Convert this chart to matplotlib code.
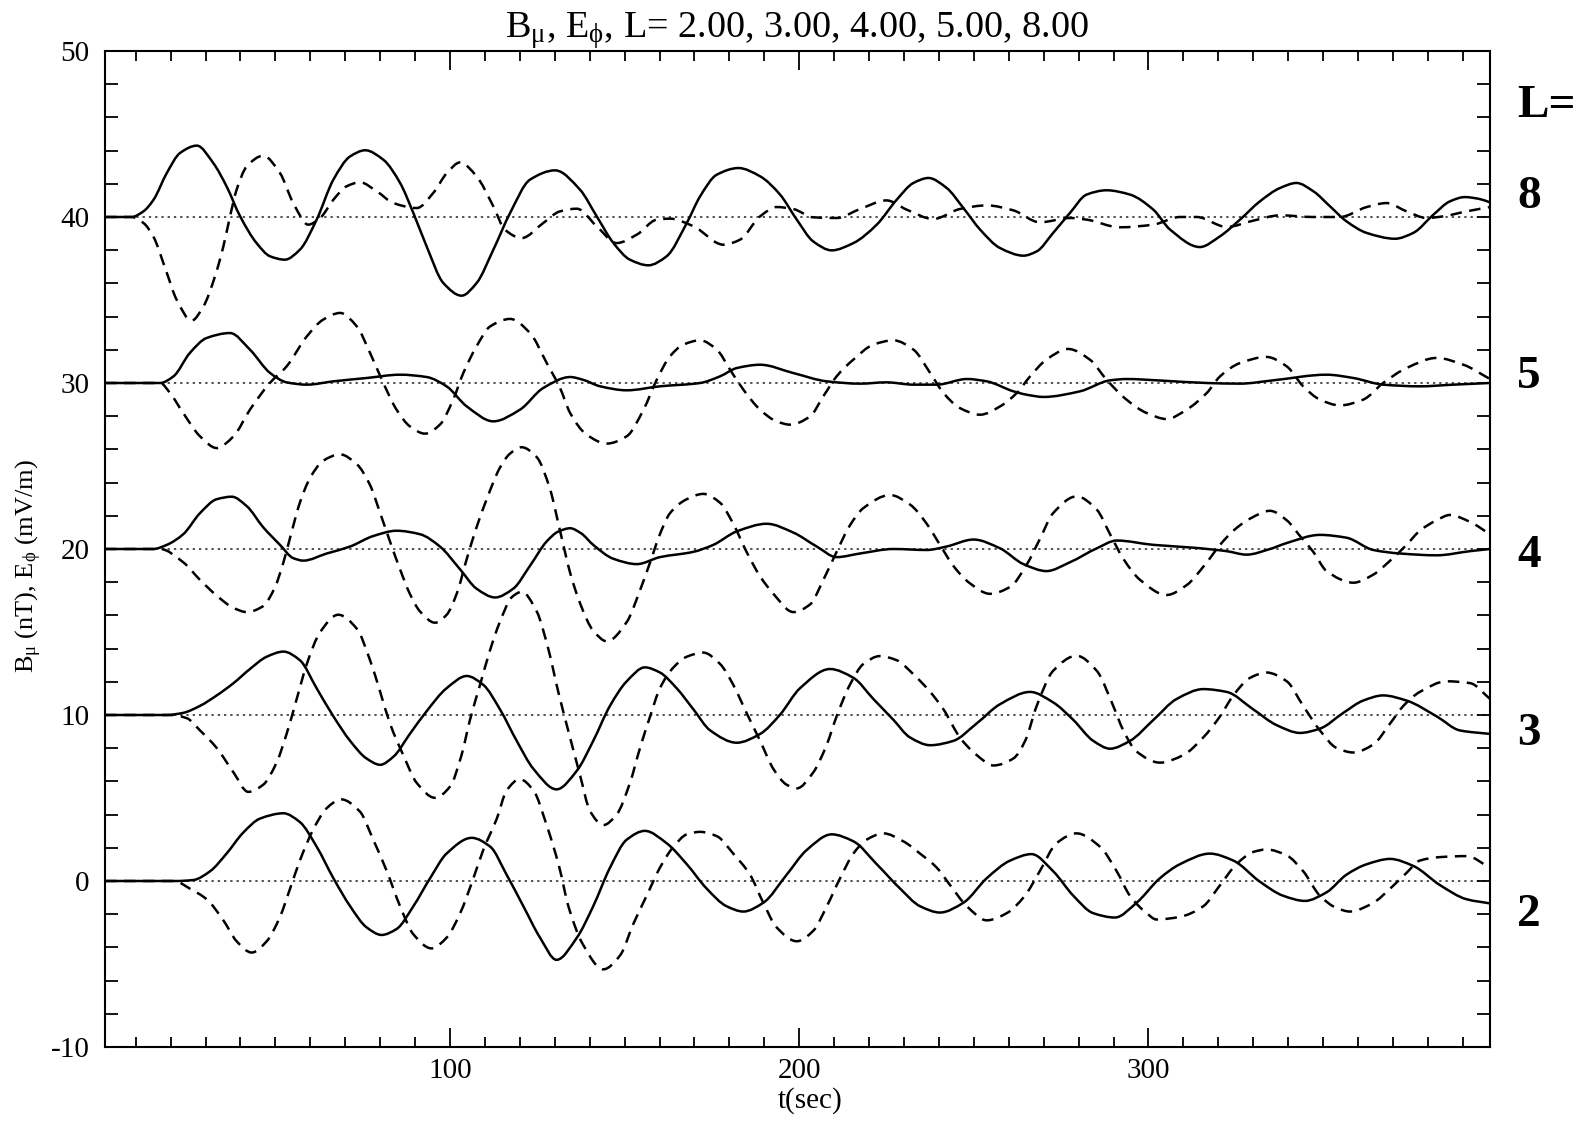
import matplotlib
matplotlib.use("Agg")
import numpy as np
import matplotlib.pyplot as plt
from matplotlib.ticker import MultipleLocator, FixedLocator
from matplotlib.path import Path
from matplotlib.patches import PathPatch

plt.rcParams['font.family'] = ['Liberation Serif', 'DejaVu Serif']
plt.rcParams['mathtext.fontset'] = 'custom'
plt.rcParams['mathtext.rm'] = 'Liberation Serif'
plt.rcParams['mathtext.it'] = 'Liberation Serif:italic'
plt.rcParams['axes.unicode_minus'] = False

# ---------------- data (deviations from each baseline) ----------------
L_values = [2, 3, 4, 5, 8]
offsets = [0, 10, 20, 30, 40]

# L = 8
t_B8 = [1.2, 8.8, 12.2, 15.1, 18.9, 22.7, 27.5, 32.2, 36.0, 39.9, 44.6, 48.5, 52.7, 57.0, 61.8, 66.6, 71.4, 75.7,
        80.9, 85.7, 89.5, 93.3, 98.1, 103.3, 107.6, 112.4, 117.2, 122.9, 130.1, 137.2, 142.0, 146.8, 151.5, 156.8,
        162.0, 167.8, 171.6, 176.4, 182.6, 188.8, 194.5, 199.3, 204.0, 209.3, 215.5, 222.2, 227.9, 232.7, 237.0,
        242.2, 247.0, 251.8, 257.5, 264.2, 268.0, 272.7, 277.5, 282.3, 288.0, 294.7, 301.4, 306.2, 314.7, 320.5,
        326.2, 331.9, 337.7, 342.4, 347.2, 352.0, 356.7, 362.5, 370.6, 375.8, 381.6, 386.3, 390.6, 394.9, 397.8]
B8 = [0, 0, 0.34, 1.04, 2.65, 3.86, 4.30, 3.25, 1.85, 0.04, -1.57, -2.37, -2.57, -1.97, -0.16, 2.25, 3.65, 4.02,
      3.45, 2.05, 0.24, -1.77, -3.98, -4.74, -3.98, -1.97, 0.24, 2.25, 2.81, 1.65, 0.04, -1.57, -2.57, -2.91,
      -2.37, -0.36, 1.24, 2.55, 2.95, 2.45, 1.35, -0.16, -1.47, -2.01, -1.57, -0.46, 1.04, 2.05, 2.35,
      1.75, 0.54, -0.76, -1.87, -2.33, -2.07, -0.96, 0.24, 1.35, 1.61, 1.35, 0.44, -0.76, -1.81, -1.16,
      -0.16, 0.94, 1.75, 2.05, 1.55, 0.64, -0.26, -0.96, -1.31, -0.96, 0.14, 0.94, 1.20, 1.08, 0.88]
t_E8 = [1.2, 8.8, 12.2, 15.0, 18.9, 21.7, 26.0, 29.4, 32.7, 35.1, 37.0, 38.9, 41.8, 46.5, 51.3, 55.1, 59.4, 62.8,
        66.6, 70.4, 74.2, 79.0, 83.8, 90.5, 95.2, 99.1, 102.9, 107.6, 112.4, 115.7, 120.5, 126.7, 131.5, 136.3,
        142.0, 147.7, 153.5, 159.2, 163.0, 169.7, 178.3, 183.0, 188.8, 193.5, 198.3, 204.0, 210.7, 217.4, 225.0,
        230.8, 238.4, 246.0, 253.7, 261.3, 268.9, 277.5, 282.3, 291.8, 301.4, 309.0, 313.8, 322.4, 330.0, 337.7,
        347.2, 354.8, 362.5, 368.2, 373.9, 379.7, 384.4, 391.1, 397.8]
E8 = [0, 0, -0.36, -1.16, -3.37, -4.98, -6.24, -5.38, -3.57, -1.77, 0.04, 1.65, 3.05, 3.69, 2.65, 0.84, -0.46, -0.06,
      1.04, 1.85, 2.09, 1.55, 0.84, 0.54, 1.45, 2.65, 3.29, 2.45, 0.64, -0.76, -1.27, -0.36, 0.34, 0.50,
      -0.56, -1.57, -1.06, -0.16, -0.10, -0.56, -1.67, -1.37, 0.04, 0.60, 0.48, -0.02, -0.06, 0.48, 1.00,
      0.44, -0.12, 0.48, 0.70, 0.40, -0.32, -0.06, -0.16, -0.62, -0.46, 0, 0, -0.60, -0.22, 0.10,
      0, 0, 0.60, 0.84, 0.34, -0.06, 0.04, 0.34, 0.60]

# L = 5
t_B5 = [1.2, 17.0, 20.8, 25.5, 30.3, 37.0, 42.7, 48.5, 53.2, 59.0, 66.6, 76.1, 85.7, 93.3, 99.0, 104.8, 112.4,
        120.0, 126.7, 134.4, 138.0, 143.0, 150.6, 160.1, 171.6, 177.3, 182.1, 188.8, 198.3, 207.9, 217.4, 225.0,
        232.7, 239.4, 248.0, 253.7, 261.3, 265.0, 270.0, 280.4, 289.0, 293.7, 304.2, 316.7, 326.2, 335.7, 351.0,
        358.7, 367.2, 377.7, 387.3, 397.8]
B5 = [0, 0, 0.40, 1.81, 2.71, 3.01, 2.01, 0.60, 0.04, -0.10, 0.10, 0.30, 0.50, 0.36, -0.20, -1.41, -2.31,
      -1.61, -0.30, 0.36, 0.20, -0.20, -0.44, -0.20, 0, 0.40, 0.90, 1.10, 0.60, 0.10, -0.04, 0.04,
      -0.10, -0.10, 0.24, 0.10, -0.50, -0.70, -0.84, -0.50, 0.16, 0.24, 0.14, 0, -0.04, 0.16, 0.50,
      0.30, -0.10, -0.20, -0.10, 0]
t_E5 = [1.2, 17.0, 19.8, 23.6, 28.4, 33.2, 38.0, 42.7, 48.4, 53.2, 59.0, 63.7, 68.5, 73.3, 77.1, 80.9, 84.7, 88.5,
        92.8, 97.1, 100.9, 103.8, 107.6, 111.5, 117.2, 122.9, 127.7, 131.5, 134.4, 139.1, 144.9, 150.6, 155.4,
        159.2, 163.0, 166.8, 171.6, 176.4, 180.2, 184.0, 188.8, 193.5, 197.4, 203.1, 206.9, 210.7, 215.5, 221.2,
        227.0, 232.7, 237.5, 241.3, 246.0, 251.8, 257.5, 262.3, 266.1, 270.8, 277.0, 283.2, 288.0, 293.7, 299.5,
        305.2, 310.9, 316.7, 320.5, 326.2, 333.8, 339.6, 344.3, 349.1, 354.8, 361.5, 367.2, 373.9, 382.5, 390.2,
        397.8]
E5 = [0, 0, -0.60, -1.81, -3.21, -3.92, -3.21, -1.61, 0, 1.00, 2.81, 3.82, 4.22, 3.41, 1.81, 0, -1.61, -2.61,
      -3.05, -2.51, -1.00, 0.60, 2.21, 3.41, 3.86, 3.01, 1.20, -0.30, -1.81, -3.11, -3.65, -3.21, -1.61,
      0.20, 1.61, 2.31, 2.57, 2.01, 0.80, -0.40, -1.61, -2.31, -2.51, -2.01, -0.80, 0.40, 1.41, 2.31,
      2.57, 2.01, 0.60, -0.60, -1.51, -1.91, -1.41, -0.60, 0.40, 1.41, 2.05, 1.41, 0.20, -1.00, -1.81,
      -2.17, -1.61, -0.60, 0.40, 1.20, 1.57, 1.00, -0.20, -1.00, -1.35, -1.00, 0, 0.90, 1.51, 1.10,
      0.24]

# L = 4
t_B4 = [1.2, 15.0, 18.9, 23.6, 28.4, 33.2, 37.5, 41.8, 46.5, 51.3, 55.1, 58.0, 64.7, 71.4, 78.0, 84.7, 91.4, 97.1,
        102.9, 107.6, 112.9, 118.1, 122.9, 127.7, 131.0, 134.4, 137.5, 141.0, 146.8, 153.5, 160.1, 169.7, 175.4,
        182.1, 190.7, 198.3, 205.0, 210.7, 217.4, 227.0, 236.5, 242.2, 249.9, 257.5, 264.2, 270.8, 277.5, 285.2,
        290.9, 301.4, 312.8, 322.4, 328.1, 334.8, 339.6, 349.1, 356.7, 364.4, 372.0, 382.5, 392.1, 397.8]
B4 = [0, 0, 0.25, 0.89, 2.16, 3.00, 3.15, 2.58, 1.31, 0.25, -0.55, -0.70, -0.27, 0.15, 0.78, 1.10, 0.89, 0.15,
      -1.23, -2.39, -2.92, -2.39, -1.01, 0.46, 1.05, 1.25, 0.95, 0.25, -0.59, -0.91, -0.49, -0.17, 0.25,
      1.06, 1.52, 0.99, 0.15, -0.49, -0.27, 0, -0.06, 0.15, 0.57, 0.04, -0.91, -1.33, -0.80, 0.04,
      0.51, 0.25, 0.08, -0.13, -0.34, 0, 0.36, 0.85, 0.68, -0.06, -0.27, -0.38, -0.13, 0]
t_E4 = [1.2, 17.0, 23.6, 28.4, 33.2, 38.0, 41.8, 46.5, 49.9, 52.3, 54.2, 57.0, 59.9, 63.7, 68.5, 73.3, 77.1, 80.0,
        82.8, 85.7, 88.5, 91.4, 95.7, 99.0, 101.9, 104.8, 107.6, 110.5, 114.3, 117.2, 120.5, 124.8, 128.6, 131.5,
        134.4, 137.2, 141.0, 144.9, 150.6, 154.4, 157.3, 160.1, 163.0, 167.8, 172.5, 177.3, 181.1, 184.9, 188.8,
        192.6, 198.3, 203.1, 206.9, 210.7, 214.5, 218.4, 226.0, 231.7, 236.5, 240.3, 244.1, 248.9, 254.6, 260.4,
        265.1, 268.9, 272.7, 279.4, 285.2, 289.0, 292.8, 297.6, 305.2, 310.9, 316.7, 320.5, 324.3, 329.1, 334.8,
        339.6, 343.4, 347.2, 351.0, 358.7, 364.4, 369.2, 373.9, 377.7, 382.5, 386.3, 392.1, 397.8]
E4 = [0, 0, -0.80, -1.86, -2.81, -3.55, -3.80, -3.44, -2.28, -0.80, 0.68, 2.79, 4.27, 5.32, 5.70, 5.11, 3.85, 2.16,
      0.46, -1.23, -2.70, -3.76, -4.44, -3.97, -2.70, -0.59, 1.31, 3.00, 4.90, 5.75, 6.13, 5.54, 3.63, 1.10,
      -1.44, -3.25, -4.92, -5.56, -4.40, -2.49, -0.80, 0.89, 2.16, 3.00, 3.32, 2.79, 1.52, -0.17, -1.65,
      -2.70, -3.80, -3.34, -1.86, -0.17, 1.42, 2.47, 3.25, 2.68, 1.52, 0.25, -1.01, -2.07, -2.70, -2.28,
      -0.95, 0.60, 2.16, 3.17, 2.37, 0.89, -0.59, -1.86, -2.77, -2.18, -0.80, 0.25, 1.10, 1.83, 2.30,
      1.73, 0.78, -0.17, -1.33, -2.03, -1.54, -0.70, 0.25, 1.10, 1.73, 2.05, 1.63, 0.89]

# L = 3
t_B3 = [1.2, 18.9, 23.6, 28.4, 33.2, 38.0, 42.7, 47.5, 52.3, 57.0, 61.8, 66.6, 71.4, 76.1, 80.0, 83.8, 88.5, 93.3,
        99.0, 104.8, 109.5, 114.3, 119.1, 123.9, 130.5, 136.3, 141.0, 145.8, 150.6, 155.8, 160.1, 164.9, 169.7,
        174.5, 182.1, 188.8, 194.5, 200.2, 208.8, 215.5, 221.2, 227.0, 231.7, 237.5, 244.1, 250.8, 257.5, 266.1,
        272.7, 278.5, 284.2, 289.0, 294.7, 301.4, 308.1, 315.7, 322.4, 330.0, 336.7, 343.4, 349.1, 355.8, 361.5,
        367.2, 373.9, 382.5, 389.2, 397.8]
B3 = [0, 0, 0.13, 0.55, 1.18, 1.92, 2.77, 3.51, 3.82, 3.30, 1.61, -0.08, -1.56, -2.62, -3.00, -2.51, -1.14, 0.23,
      1.61, 2.35, 1.82, 0.34, -1.56, -3.25, -4.48, -3.36, -1.56, 0.55, 2.03, 2.87, 2.56, 1.61, 0.34,
      -0.93, -1.67, -1.14, 0.02, 1.61, 2.77, 2.24, 0.97, -0.30, -1.35, -1.82, -1.56, -0.51, 0.65, 1.39,
      0.76, -0.30, -1.56, -2.03, -1.56, -0.30, 0.97, 1.56, 1.39, 0.34, -0.61, -1.08, -0.82, 0.13, 0.87,
      1.18, 0.87, -0.08, -0.93, -1.14]
t_E3 = [1.2, 20.0, 24.6, 28.4, 33.2, 38.0, 42.2, 46.5, 50.4, 53.2, 56.1, 59.0, 62.8, 68.0, 73.3, 77.1, 80.0, 82.8,
        86.6, 90.5, 95.7, 100.0, 103.3, 105.7, 108.6, 111.5, 114.3, 117.7, 120.5, 124.8, 128.2, 131.0, 134.1,
        137.2, 140.1, 143.9, 147.7, 151.5, 154.4, 157.3, 160.1, 164.0, 167.8, 172.5, 177.3, 181.1, 184.9, 188.8,
        192.6, 196.4, 199.3, 204.0, 207.9, 210.7, 214.5, 218.4, 223.1, 227.9, 232.7, 237.5, 241.3, 246.0, 250.8,
        255.6, 261.3, 264.7, 268.0, 272.7, 279.4, 285.2, 289.9, 292.8, 296.6, 303.3, 310.0, 315.7, 320.5, 324.3,
        329.1, 333.8, 339.6, 344.3, 349.1, 353.9, 358.7, 364.4, 369.2, 373.0, 377.7, 385.4, 392.1, 397.8]
E3 = [0, 0, -0.19, -0.93, -1.99, -3.46, -4.63, -4.20, -2.83, -1.14, 0.97, 3.08, 4.99, 6.04, 5.20, 3.30, 1.39, -0.51,
      -2.41, -4.10, -4.99, -4.31, -2.41, -0.30, 1.82, 3.93, 5.62, 7.10, 7.42, 6.25, 3.93, 1.39, -1.14,
      -3.60, -5.79, -6.63, -6.00, -4.10, -1.99, -0.08, 1.61, 2.87, 3.51, 3.76, 3.08, 1.82, 0.13, -1.56,
      -3.25, -4.20, -4.42, -3.46, -1.77, -0.08, 1.82, 3.08, 3.55, 3.30, 2.45, 1.39, 0.34, -1.35, -2.41,
      -3.04, -2.62, -1.55, 0.55, 2.66, 3.57, 2.66, 0.55, -0.93, -2.20, -2.87, -2.41, -1.35, -0.08, 1.18,
      2.24, 2.56, 2.03, 0.55, -0.93, -1.99, -2.26, -1.77, -0.51, 0.55, 1.39, 2.03, 1.92, 0.97]

# L = 2
t_B2 = [1.2, 21.7, 26.5, 31.3, 36.0, 40.8, 45.6, 52.3, 57.0, 61.8, 66.6, 71.4, 76.1, 80.4, 84.7, 89.5, 94.3, 99.0,
        106.2, 111.5, 116.2, 121.0, 125.8, 130.5, 136.3, 141.0, 145.8, 150.6, 155.8, 162.0, 167.8, 173.5, 179.2,
        184.0, 189.7, 196.4, 202.1, 209.3, 215.5, 222.2, 228.9, 234.6, 240.3, 247.0, 253.7, 260.4, 266.5, 272.7,
        278.5, 284.2, 290.4, 296.6, 303.3, 309.0, 317.6, 324.3, 331.9, 338.6, 344.8, 351.0, 356.7, 362.5, 369.2,
        375.8, 383.5, 391.1, 397.8]
B2 = [0, 0, 0.06, 0.59, 1.65, 2.92, 3.76, 4.08, 3.55, 2.07, 0.17, -1.52, -2.79, -3.25, -2.89, -1.52, 0.17, 1.65,
      2.60, 2.07, 0.38, -1.52, -3.42, -4.75, -3.42, -1.52, 0.80, 2.49, 3.02, 2.28, 1.01, -0.46, -1.52,
      -1.84, -1.31, 0.38, 1.86, 2.81, 2.39, 1.01, -0.46, -1.52, -1.90, -1.31, 0.17, 1.23, 1.62, 0.59,
      -0.89, -1.94, -2.20, -1.31, 0.17, 1.01, 1.65, 1.23, -0.04, -0.89, -1.20, -0.68, 0.38, 1.01, 1.33,
      0.91, -0.25, -1.10, -1.35]
t_E2 = [1.2, 21.0, 25.5, 30.3, 35.1, 38.9, 43.2, 47.5, 51.3, 54.2, 57.0, 60.9, 64.7, 68.8, 74.2, 78.0, 81.9, 85.7,
        89.5, 94.7, 99.0, 102.9, 106.7, 109.5, 113.4, 116.2, 120.0, 123.9, 127.7, 131.2, 134.0, 138.0, 143.9,
        148.7, 152.5, 156.3, 160.1, 164.0, 167.8, 171.6, 176.4, 181.1, 185.9, 189.7, 193.5, 199.3, 204.0, 207.9,
        211.7, 215.5, 219.3, 224.1, 229.8, 234.6, 239.4, 243.2, 248.0, 253.7, 259.4, 264.6, 268.9, 273.7, 279.4,
        286.1, 290.9, 294.7, 299.5, 302.3, 309.0, 315.7, 320.5, 325.2, 330.0, 333.8, 339.6, 344.3, 349.1, 353.9,
        357.7, 364.4, 369.2, 373.9, 377.7, 383.5, 391.1, 397.8]
E2 = [0, 0, -0.46, -1.10, -2.37, -3.63, -4.31, -3.63, -2.16, -0.46, 1.23, 3.13, 4.39, 4.92, 4.18, 2.49, 0.59, -1.52,
      -3.21, -4.06, -3.42, -1.94, 0.17, 1.86, 3.76, 5.45, 6.13, 5.45, 3.34, 0.90, -1.60, -3.80, -5.32,
      -4.48, -2.58, -0.89, 0.80, 2.07, 2.81, 2.96, 2.70, 1.65, 0.38, -1.31, -2.79, -3.63, -3.00, -1.52,
      0.17, 1.65, 2.49, 2.87, 2.39, 1.65, 0.80, -0.25, -1.52, -2.37, -1.94, -0.89, 0.60, 2.28, 2.87,
      2.07, 0.59, -0.89, -1.94, -2.32, -2.16, -1.52, -0.25, 1.01, 1.75, 1.90, 1.54, 0.59, -0.89, -1.63,
      -1.84, -1.31, -0.46, 0.49, 1.23, 1.44, 1.50, 0.80]

series = {
    2: (t_B2, B2, t_E2, E2),
    3: (t_B3, B3, t_E3, E3),
    4: (t_B4, B4, t_E4, E4),
    5: (t_B5, B5, t_E5, E5),
    8: (t_B8, B8, t_E8, E8),
}

x_ticks = [100, 200, 300]
y_ticks = [-10, 0, 10, 20, 30, 40, 50]
title = "B$_{\\mathrm{\u03bc}}$, E$_{\\mathrm{\u03d5}}$, L= 2.00, 3.00, 4.00, 5.00, 8.00"
ylabel = "B$_{\\mathrm{\u03bc}}$ (nT), E$_{\\mathrm{\u03d5}}$ (mV/m)"
xlabel = "t(sec)"


def smooth_path(x, y):
    """Smooth curve through the read points, drawn by matplotlib as cubic Bezier segments
    (monotone Hermite tangents, so the curve passes exactly through every point)."""
    x = np.asarray(x, float)
    y = np.asarray(y, float)
    h = np.diff(x)
    d = np.diff(y) / h
    n = len(x)
    m = np.zeros(n)
    for k in range(1, n - 1):
        if d[k - 1] * d[k] > 0:
            w1 = 2 * h[k] + h[k - 1]
            w2 = h[k] + 2 * h[k - 1]
            m[k] = (w1 + w2) / (w1 / d[k - 1] + w2 / d[k])
    m[0] = d[0]
    m[-1] = d[-1]
    verts = [(x[0], y[0])]
    codes = [Path.MOVETO]
    for k in range(n - 1):
        verts += [(x[k] + h[k] / 3, y[k] + m[k] * h[k] / 3),
                  (x[k + 1] - h[k] / 3, y[k + 1] - m[k + 1] * h[k] / 3),
                  (x[k + 1], y[k + 1])]
        codes += [Path.CURVE4] * 3
    return Path(verts, codes)


# ---------------- figure ----------------
W, H = 1589, 1124
fig = plt.figure(figsize=(W / 100, H / 100), dpi=100)
ax = fig.add_axes([105 / W, 1 - 1047 / H, (1490 - 105) / W, (1047 - 51) / H])

for L, off in zip(L_values, offsets):
    tB, B, tE, E = series[L]
    ax.axhline(off, color='#222222', lw=1.1, ls=(0, (1.5, 2.6)), zorder=1)
    pB = smooth_path(tB, [v + off for v in B])
    pE = smooth_path(tE, [v + off for v in E])
    ax.add_patch(PathPatch(pB, fill=False, edgecolor='black', lw=1.8, joinstyle='round', zorder=3))
    ax.add_patch(PathPatch(pE, fill=False, edgecolor='black', lw=1.8, ls=(0, (4.6, 3.0)), zorder=3))

ax.set_xlim(1.2, 397.8)
ax.set_ylim(-10, 50)
ax.xaxis.set_major_locator(FixedLocator(x_ticks))
ax.xaxis.set_minor_locator(MultipleLocator(10))
ax.yaxis.set_major_locator(FixedLocator(y_ticks))
ax.yaxis.set_minor_locator(MultipleLocator(2))

ax.tick_params(axis='both', which='both', direction='in', top=True, right=True, width=1.3, colors='black')
ax.tick_params(axis='x', which='major', length=14, pad=8, labelsize=21)
ax.tick_params(axis='x', which='minor', length=7)
ax.tick_params(axis='y', which='major', length=9.5, pad=11, labelsize=21)
ax.tick_params(axis='y', which='minor', length=9.5)
for s in ax.spines.values():
    s.set_linewidth(1.5)

ax.set_title(title, fontsize=27.5, pad=10)
ax.set_xlabel(xlabel, fontsize=21)
ax.xaxis.set_label_coords(0.509, -0.040)
ax.set_ylabel(ylabel, fontsize=19)
ax.yaxis.set_label_coords(-0.044, 0.483)

# right-hand L labels
fig.text(1517 / W, 1 - 106 / H, "L=", fontsize=34, fontweight='bold', ha='left', va='center')
label_y = {8: 197, 5: 377, 4: 556, 3: 734, 2: 915}
for L in L_values:
    fig.text(1517 / W, 1 - label_y[L] / H, str(L), fontsize=34, fontweight='bold', ha='left', va='center')

fig.savefig("out.png", dpi=100)
